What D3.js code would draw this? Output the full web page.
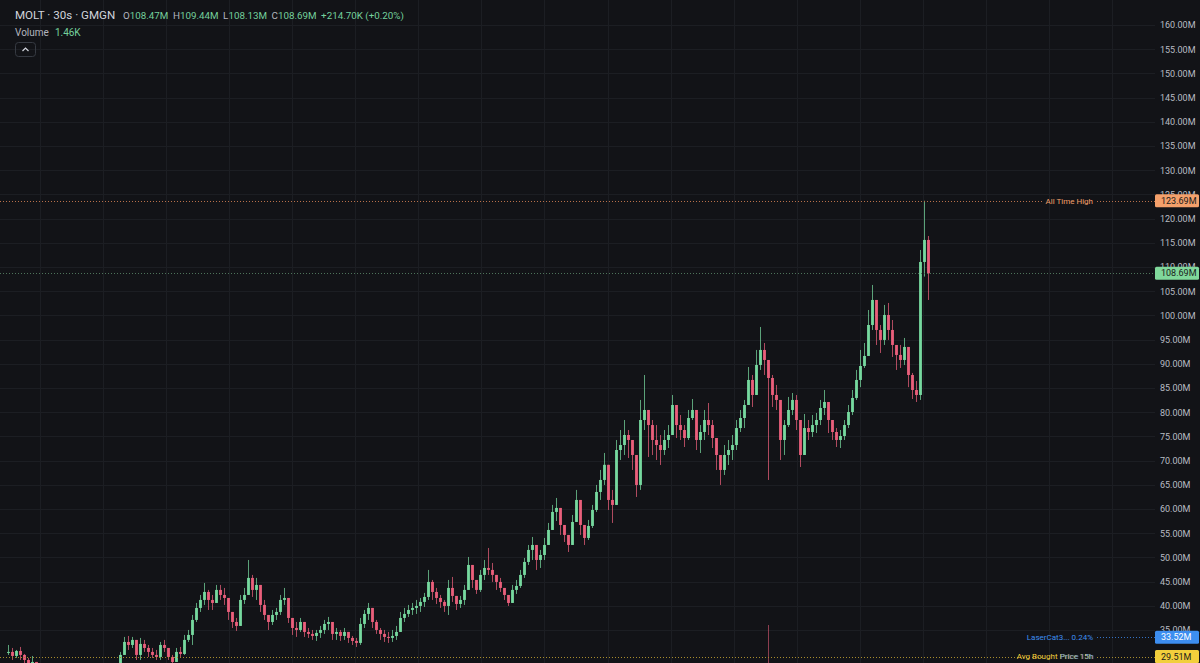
<!DOCTYPE html>
<html>
<head>
<meta charset="utf-8">
<script src="https://cdn.jsdelivr.net/npm/d3@7"></script>
<style>
html, body { margin: 0; padding: 0; background: #121317; overflow: hidden; }
svg { display: block; font-family: Roboto, "Noto Sans", sans-serif; }
</style>
</head>
<body>
<svg id="chart" width="1200" height="663"></svg>
<script>
// candle data (30s candles aggregated), prices in millions
const closes = [30.47, 29.64, 30.67, 29.85, 28.81, 27.99, 28.40, 26.75, 26.2, 25.6,
  25.1, 24.5, 25.0, 24.2, 23.7, 24.4, 23.8, 23.1, 23.7, 24.5,
  24.0, 24.9, 25.5, 25.1, 25.9, 26.4, 26.9, 27.2, 29.85, 32.53,
  31.91, 32.95, 29.85, 32.12, 31.29, 30.47, 29.85, 29.43, 31.91, 31.29,
  29.43, 28.40, 30.47, 30.05, 32.95, 33.98, 37.08, 39.56, 41.21, 42.86,
  41.21, 40.59, 43.28, 42.24, 41.62, 38.73, 36.66, 35.84, 41.21, 42.24,
  45.76, 43.28, 44.31, 40.18, 38.11, 36.66, 38.11, 38.73, 41.21, 41.62,
  37.49, 35.42, 35.01, 36.66, 34.60, 34.19, 33.77, 34.40, 35.01, 36.25,
  36.66, 34.19, 34.60, 33.77, 34.60, 33.36, 32.74, 32.33, 36.25, 38.32,
  39.56, 36.66, 35.01, 34.19, 33.57, 33.36, 33.77, 34.60, 37.49, 38.32,
  39.14, 39.56, 39.97, 40.80, 41.83, 44.93, 42.86, 41.62, 40.80, 39.97,
  43.69, 42.04, 40.38, 41.21, 43.28, 48.44, 45.34, 43.28, 46.38, 47.82,
  47.41, 46.38, 44.93, 43.69, 42.24, 40.59, 43.28, 44.10, 46.38, 49.06,
  51.54, 52.57, 49.47, 50.50, 52.57, 55.67, 59.39, 60.22, 56.70, 54.64,
  52.57, 57.32, 61.87, 56.70, 54.02, 56.50, 59.80, 63.52, 66.00, 69.13,
  61.87, 60.84, 72.19, 73.22, 75.29, 74.26, 71.16, 64.97, 78.39, 80.46,
  77.35, 74.26, 73.22, 72.19, 74.26, 75.29, 81.49, 77.35, 76.32, 74.67,
  78.80, 80.46, 74.26, 75.91, 78.39, 77.35, 74.67, 71.16, 68.07, 71.16,
  72.19, 73.22, 76.73, 78.80, 81.49, 86.66, 83.56, 89.76, 92.86, 90.79,
  87.07, 83.56, 82.53, 74.26, 77.35, 80.46, 82.53, 78.39, 71.16, 76.73,
  75.91, 77.35, 78.39, 80.87, 82.11, 78.39, 75.91, 74.26, 75.08, 77.35,
  80.04, 82.94, 86.66, 89.55, 91.62, 98.02, 103.19, 96.99, 94.93, 100.09,
  96.99, 93.89, 91.83, 90.79, 93.48, 87.69, 84.59, 83.56, 111.04, 115.59,
  108.69];

const highs = [31.91, 31.29, 30.88, 31.50, 30.05, 29.23, 29.64, 28.40, 27.1, 26.6,
  26.0, 25.5, 25.4, 25.4, 24.6, 24.8, 24.8, 24.2, 24.1, 24.9,
  24.9, 25.3, 25.9, 25.9, 26.3, 26.8, 27.3, 27.6, 30.47, 33.57,
  33.77, 33.57, 32.95, 33.36, 32.95, 31.91, 31.29, 30.88, 32.53, 32.95,
  31.29, 29.85, 31.29, 31.50, 33.98, 35.01, 38.11, 40.59, 42.24, 44.72,
  43.28, 42.24, 44.31, 44.31, 43.69, 41.21, 38.73, 37.49, 42.24, 43.69,
  49.47, 46.38, 45.76, 43.69, 41.21, 38.11, 39.14, 39.56, 42.24, 43.69,
  40.18, 37.08, 36.66, 37.49, 36.66, 35.42, 35.01, 35.01, 35.84, 37.08,
  37.70, 36.25, 35.42, 35.01, 35.42, 34.60, 33.77, 33.36, 37.49, 39.14,
  40.59, 39.14, 37.08, 35.42, 35.01, 34.60, 35.01, 35.84, 38.73, 39.56,
  40.18, 40.59, 41.21, 41.62, 42.66, 47.41, 45.34, 43.69, 42.24, 41.21,
  45.34, 45.96, 41.62, 42.04, 44.31, 50.09, 48.44, 45.34, 47.41, 49.47,
  51.95, 48.85, 46.38, 45.76, 43.69, 42.24, 44.31, 45.34, 47.41, 49.89,
  52.57, 54.22, 51.95, 51.54, 54.02, 57.12, 60.84, 62.28, 59.18, 56.70,
  54.22, 58.77, 63.94, 59.80, 56.70, 57.74, 60.84, 64.97, 68.07, 71.58,
  68.07, 63.94, 74.26, 76.32, 78.39, 76.32, 74.26, 71.16, 82.53, 87.69,
  80.46, 78.39, 77.35, 75.29, 76.32, 77.35, 83.56, 81.49, 79.42, 77.35,
  80.46, 82.73, 78.39, 77.35, 80.46, 81.90, 78.39, 74.26, 71.16, 73.22,
  74.26, 75.29, 78.39, 80.46, 82.53, 89.34, 87.69, 92.86, 97.61, 94.30,
  90.79, 87.69, 85.63, 81.49, 78.39, 83.15, 83.97, 83.56, 76.32, 79.63,
  78.39, 79.42, 79.84, 82.53, 84.59, 81.49, 78.39, 76.73, 76.32, 78.39,
  81.49, 84.59, 88.73, 92.86, 94.30, 101.12, 106.29, 102.16, 98.02, 102.16,
  102.57, 99.05, 93.89, 93.89, 95.34, 91.83, 88.11, 86.45, 113.52, 123.69,
  116.41];

const lows = [29.85, 28.81, 29.23, 28.81, 27.78, 26.75, 27.16, 25.72, 25.7, 25.1,
  24.6, 24.0, 24.0, 23.7, 23.2, 23.2, 23.3, 22.6, 22.6, 23.2,
  23.5, 23.5, 24.4, 24.6, 24.6, 25.4, 25.9, 26.4, 27.57, 29.85,
  30.88, 31.29, 28.81, 28.81, 30.47, 29.43, 29.23, 28.81, 28.81, 30.47,
  28.81, 27.57, 28.40, 29.43, 29.85, 32.53, 31.91, 36.66, 38.73, 40.18,
  39.14, 39.14, 40.59, 41.21, 40.18, 37.08, 35.42, 34.81, 36.66, 40.38,
  42.24, 41.83, 41.21, 38.73, 37.08, 35.01, 36.04, 37.08, 38.11, 40.18,
  36.46, 33.98, 33.57, 34.60, 33.57, 33.36, 32.95, 32.74, 33.36, 34.19,
  35.01, 32.95, 32.95, 32.74, 32.95, 32.33, 31.91, 31.50, 31.91, 35.42,
  37.08, 35.42, 34.19, 32.95, 32.53, 32.33, 32.53, 32.95, 35.84, 36.66,
  37.70, 38.11, 38.32, 38.73, 39.76, 41.21, 41.21, 40.38, 39.56, 38.73,
  38.11, 40.80, 39.14, 39.56, 40.18, 43.28, 43.69, 42.45, 42.86, 45.34,
  46.38, 44.93, 43.28, 42.86, 41.21, 39.97, 41.21, 42.45, 43.69, 45.76,
  48.44, 49.47, 47.41, 47.82, 49.47, 52.57, 55.67, 57.53, 54.64, 53.19,
  51.12, 52.57, 57.74, 54.64, 52.57, 53.60, 56.08, 59.39, 61.87, 64.97,
  59.80, 57.12, 61.87, 70.13, 71.16, 70.54, 68.07, 62.49, 63.94, 76.32,
  70.75, 71.16, 70.13, 69.10, 71.16, 72.60, 76.32, 74.67, 74.26, 72.81,
  74.26, 78.39, 72.19, 71.57, 74.26, 75.29, 72.60, 68.07, 64.97, 67.03,
  69.10, 70.13, 72.19, 75.91, 76.73, 82.11, 81.08, 84.59, 88.73, 87.69,
  66.00, 81.08, 80.46, 70.13, 71.16, 76.94, 79.42, 76.32, 68.68, 72.19,
  74.26, 74.88, 75.70, 77.35, 79.42, 75.70, 74.26, 72.81, 72.60, 74.26,
  76.73, 79.42, 82.53, 85.18, 89.14, 92.86, 96.99, 93.89, 92.24, 93.89,
  94.93, 91.41, 88.73, 89.14, 89.76, 85.18, 82.73, 82.11, 82.53, 108.02,
  103.19];

// the one volume bar tall enough to show (index, volume in K)
const volumeSpikes = [[190, 38]];

const priceTicks = d3.range(35, 161, 5);

// header legend
const titleText = "MOLT · 30s · GMGN";
const ohlcKeys = ["O", "H", "L", "C"];
const ohlcValues = ["108.47M", "109.44M", "108.13M", "108.69M"];
const changeText = "+214.70K (+0.20%)";
const volumeValue = "1.46K";

// horizontal markers on the price scale
const markerNames = ["All Time High", "LaserCat3... 0.24%", "Avg Bought Price 15h"];
const markerPrices = [123.69, 33.52, 29.51];
const markerColors = ["#f4a06b", "#3d8ef0", "#f2cf3c"];
const markerLines = ["#b8704a", "#3472c4", "#a88c2c"];
const markerText = ["#1b1b1b", "#ffffff", "#1b1b1b"];
const markerLeftLine = [true, false, true];

const W = 1200, H = 663, paneRight = 1155;
const upColor = "#7ae0a4", downColor = "#f2627f";

const svg = d3.select("#chart");
svg.append("rect").attr("width", W).attr("height", H).attr("fill", "#121317");

const y = d3.scaleLinear().domain([35, 160]).range([630, 25]);
const x = d3.scaleLinear().domain([0, closes.length - 1]).range([8, 928]);
const yVol = d3.scaleLinear().domain([0, 100]).range([H, H - 100]);

svg.append("clipPath").attr("id", "pane")
  .append("rect").attr("width", paneRight).attr("height", H);

// grid
const grid = svg.append("g").attr("clip-path", "url(#pane)");
grid.selectAll(".hg").data(priceTicks).join("line")
  .attr("x1", 0).attr("x2", paneRight)
  .attr("y1", d => Math.round(y(d)) + 0.5).attr("y2", d => Math.round(y(d)) + 0.5)
  .attr("stroke", "#1c1e23");
const timeGrid = d3.range(8, closes.length + 50, 15.765);
grid.selectAll(".vg").data(timeGrid).join("line")
  .attr("x1", d => Math.round(x(d)) + 0.5).attr("x2", d => Math.round(x(d)) + 0.5)
  .attr("y1", 0).attr("y2", H)
  .attr("stroke", "#1c1e23");

// volume spike
svg.append("g").selectAll("rect").data(volumeSpikes).join("rect")
  .attr("x", d => x(d[0])).attr("width", 1)
  .attr("y", d => yVol(d[1])).attr("height", d => H - yVol(d[1]))
  .attr("fill", downColor).attr("opacity", 0.55);

// candles
const candles = closes.map((c, i) => {
  const o = i ? closes[i - 1] : c;
  return { i, o, c, h: Math.max(highs[i], o, c), l: Math.min(lows[i], o, c) };
});
const cg = svg.append("g").attr("clip-path", "url(#pane)");
cg.selectAll(".wick").data(candles).join("rect")
  .attr("x", d => x(d.i))
  .attr("width", 1)
  .attr("y", d => y(d.h))
  .attr("height", d => y(d.l) - y(d.h))
  .attr("fill", d => d.c >= d.o ? upColor : downColor)
  .attr("opacity", 0.7);
cg.selectAll(".body").data(candles).join("rect")
  .attr("x", d => x(d.i) - 1)
  .attr("width", 3)
  .attr("y", d => y(Math.max(d.o, d.c)))
  .attr("height", d => Math.max(1, Math.abs(y(d.o) - y(d.c))))
  .attr("fill", d => d.c >= d.o ? upColor : downColor)
  .attr("opacity", 0.88);

// dotted marker lines
const lastPrice = closes[closes.length - 1];
function dotted(yy, x1, x2, color) {
  svg.append("line")
    .attr("x1", x1).attr("x2", x2)
    .attr("y1", Math.round(yy) + 0.5).attr("y2", Math.round(yy) + 0.5)
    .attr("stroke", color).attr("stroke-dasharray", "1,2");
}
dotted(y(lastPrice), 0, paneRight, "#4d735a");
markerPrices.forEach((p, k) => {
  const yy = y(p);
  if (markerLeftLine[k]) dotted(yy, 0, 1043, markerLines[k]);
  dotted(yy, 1097, paneRight, markerLines[k]);
  svg.append("text")
    .attr("x", 1093).attr("y", yy).attr("dy", "0.35em")
    .attr("text-anchor", "end")
    .attr("font-size", 8)
    .attr("fill", markerColors[k])
    .text(markerNames[k]);
});
// overlapping second label on the avg line
svg.append("text")
  .attr("x", 1094).attr("y", y(markerPrices[2])).attr("dy", "0.35em")
  .attr("text-anchor", "end").attr("font-size", 8)
  .attr("fill", "#3d8ef0").attr("opacity", 0.8)
  .text("Price 15h");

// price axis
const axis = d3.axisRight(y).tickValues(priceTicks).tickSize(0).tickPadding(0)
  .tickFormat(d => d.toFixed(2) + "M");
const ag = svg.append("g").attr("transform", "translate(1160,0)").call(axis);
ag.select(".domain").remove();
ag.selectAll("text").attr("fill", "#b9bcc3").attr("font-size", 9)
  .attr("font-family", "Roboto, 'Noto Sans', sans-serif");

// price tags
const tags = [
  { p: markerPrices[0], fill: markerColors[0], txt: markerText[0] },
  { p: lastPrice, fill: "#80d89b", txt: "#1b1b1b" },
  { p: markerPrices[1], fill: markerColors[1], txt: markerText[1] },
  { p: markerPrices[2], fill: markerColors[2], txt: markerText[2] }
];
tags.forEach(t => {
  svg.append("rect")
    .attr("x", 1155).attr("y", y(t.p) - 6.5)
    .attr("width", 44).attr("height", 13).attr("rx", 1.5)
    .attr("fill", t.fill);
  svg.append("text")
    .attr("x", 1161).attr("y", y(t.p)).attr("dy", "0.35em")
    .attr("font-size", 9).attr("fill", t.txt)
    .text(t.p.toFixed(2) + "M");
});

// header legend
svg.append("text").attr("x", 15).attr("y", 18.5)
  .attr("font-size", 11.6).attr("fill", "#d1d4dc").text(titleText);
const leg = svg.append("text").attr("x", 123).attr("y", 18.5).attr("font-size", 9.8);
ohlcKeys.forEach((k, i) => {
  leg.append("tspan").attr("dx", i ? 4.5 : 0).attr("fill", "#b2b5be").text(k);
  leg.append("tspan").attr("fill", "#74d09c").text(ohlcValues[i]);
});
leg.append("tspan").attr("dx", 4.5).attr("fill", "#74d09c").text(changeText);

const vol = svg.append("text").attr("x", 15).attr("y", 35.5).attr("font-size", 10);
vol.append("tspan").attr("fill", "#b2b5be").text("Volume");
vol.append("tspan").attr("dx", 6).attr("fill", "#74d09c").text(volumeValue);

svg.append("rect").attr("x", 15.5).attr("y", 42.5).attr("width", 20).attr("height", 14)
  .attr("rx", 3).attr("fill", "none").attr("stroke", "#363a42");
svg.append("polyline").attr("points", "22.5,51 25.5,48 28.5,51")
  .attr("fill", "none").attr("stroke", "#d1d4dc").attr("stroke-width", 1.2);
</script>
</body>
</html>
